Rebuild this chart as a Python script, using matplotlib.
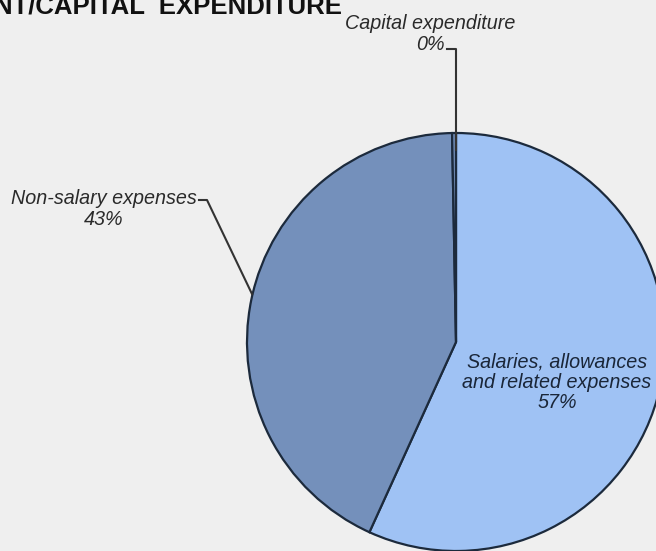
import matplotlib
matplotlib.use("Agg")
import matplotlib.pyplot as plt

# data
categories = ["Salaries, allowances\nand related expenses", "Non-salary expenses", "Capital expenditure"]
values = [56.8, 42.9, 0.3]
colors = ["#9fc2f4", "#7490bb", "#7490bb"]

plt.rcParams['font.family'] = ['Liberation Sans', 'DejaVu Sans']

W, H = 656, 551
fig = plt.figure(figsize=(W / 100, H / 100), dpi=100, facecolor="#efefef")
ax = fig.add_axes([0, 0, 1, 1])
ax.set_facecolor("#efefef")

cx, cy, r = 456, H - 342, 209
ax.pie(values, colors=colors, startangle=90, counterclock=False,
       center=(cx, cy), radius=r, frame=True,
       wedgeprops=dict(edgecolor="#1c2a3c", linewidth=1.6))
ax.set_xlim(0, W)
ax.set_ylim(0, H)
ax.set_aspect("equal")
ax.axis("off")

pct = ["%.0f%%" % v for v in values]
tcol = "#2a2a2a"
fs = 14.2

# salaries label inside
ax.text(557, H - 382, categories[0] + "\n" + pct[0], ha="center", va="center",
        fontsize=fs, style="italic", color="#1a2638", linespacing=1.1)

# non-salary label + leader
ax.text(104, H - 209, categories[1] + "\n" + pct[1], ha="center", va="center",
        fontsize=fs, style="italic", color=tcol, linespacing=1.1)
ax.plot([199, 207, 252], [H - 200, H - 200, H - 294], color="#333333", lw=1.5)

# capital label + leader
ax.text(430, H - 34, categories[2] + "\n" + pct[2], ha="center", va="center",
        fontsize=fs, style="italic", color=tcol, linespacing=1.1)
ax.plot([447, 456, 456], [H - 49, H - 49, H - 150], color="#333333", lw=1.5)

# title (cut off at the left edge, as in the source)
ax.text(-6, H - 14, "NT/CAPITAL  EXPENDITURE", ha="left", va="baseline",
        fontsize=18.5, fontweight="bold", color="#111111")

fig.savefig("out.png", dpi=100, facecolor=fig.get_facecolor())
